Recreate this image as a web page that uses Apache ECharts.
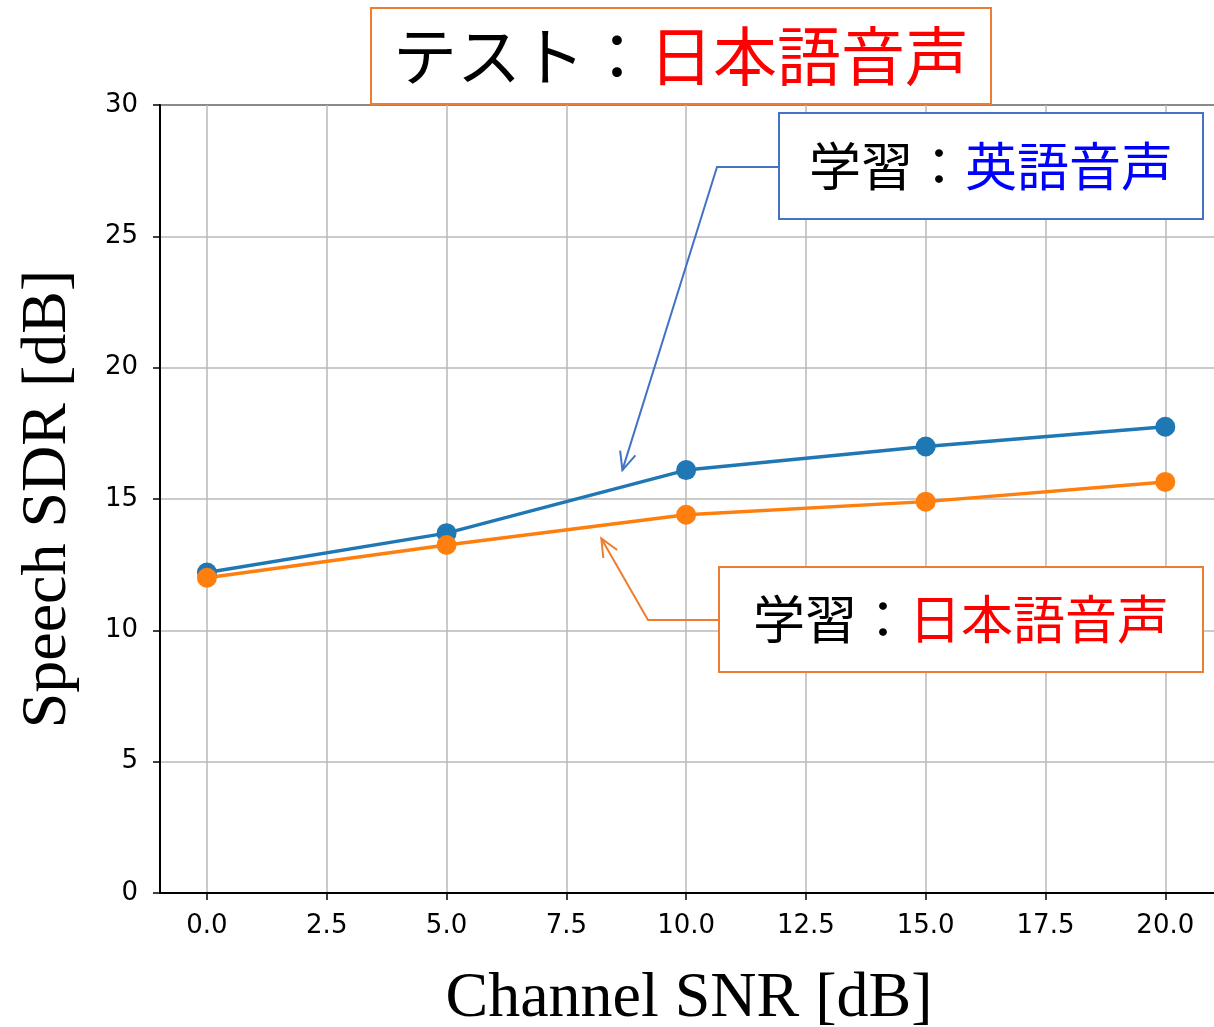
<!DOCTYPE html>
<html>
<head>
<meta charset="utf-8">
<script src="https://cdn.jsdelivr.net/npm/echarts@6/dist/echarts.min.js"></script>
<style>
html, body { margin: 0; padding: 0; background: #fff; }
#chart { width: 1214px; height: 1027px; }
</style>
</head>
<body>
<div id="chart"></div>
<script>
// values
let snr = [0, 5, 10, 15, 20]
let sdrEnglish = [12.2, 13.7, 16.1, 17.0, 17.75]
let sdrJapanese = [12.0, 13.25, 14.4, 14.9, 15.65]
let xTicks = [0, 2.5, 5, 7.5, 10, 12.5, 15, 17.5, 20]

let xName = 'Channel SNR [dB]'
let yName = 'Speech SDR [dB]'
let titleText = ['テスト：', '日本語音声']
let noteEnglish = ['学習：', '英語音声']
let noteJapanese = ['学習：', '日本語音声']

// where the arrows point, in data units
let tipEnglish = [8.67, 16.1]
let tipJapanese = [8.23, 13.5]

const jp = '"Noto Sans CJK JP", "Noto Sans", sans-serif'
const tickFont = '"DejaVu Sans", sans-serif'
const serif = '"Liberation Serif", "DejaVu Serif", serif'

let myChart = echarts.init(document.getElementById('chart'))

function pairs(xs, ys) {
	let arr = []
	for (let i = 0; i < xs.length; i++) {
		arr.push([xs[i], ys[i]])
	}
	return arr
}

function noteBox(x, y, w, h, color, parts, second, size) {
	return [{
		type: 'rect',
		z: 100,
		shape: {x: x, y: y, width: w, height: h},
		style: {fill: '#fff', stroke: color, lineWidth: 2}
	}, {
		type: 'text',
		z: 101,
		x: x + w / 2,
		y: y + h / 2,
		style: {
			text: '{k|' + parts[0] + '}{c|' + parts[1] + '}',
			align: 'center',
			verticalAlign: 'middle',
			rich: {
				k: {fill: '#000', fontSize: size, fontFamily: jp},
				c: {fill: second, fontSize: size, fontFamily: jp}
			}
		}
	}]
}

function arrow(from, mid, tip, color) {
	let dx = tip[0] - mid[0], dy = tip[1] - mid[1]
	let len = Math.sqrt(dx * dx + dy * dy)
	let ux = dx / len, uy = dy / len
	let hl = 18, hw = 8
	let bx = tip[0] - ux * hl, by = tip[1] - uy * hl
	let p1 = [bx - uy * hw, by + ux * hw]
	let p2 = [bx + uy * hw, by - ux * hw]
	return [{
		type: 'polyline',
		z: 100,
		shape: {points: [from, mid, tip]},
		style: {stroke: color, lineWidth: 2, fill: null}
	}, {
		type: 'polyline',
		z: 100,
		shape: {points: [p1, tip, p2]},
		style: {stroke: color, lineWidth: 2, fill: null}
	}]
}

let option = {
	animation: false,
	backgroundColor: '#fff',
	grid: {
		left: 160,
		right: -4,
		top: 105,
		bottom: 134,
		show: true,
		borderColor: '#000',
		borderWidth: 2,
		containLabel: false,
		outerBoundsMode: 'none'
	},
	xAxis: {
		type: 'value',
		min: -0.98,
		max: 21.1,
		name: xName,
		nameLocation: 'middle',
		nameGap: 74,
		nameTextStyle: {fontFamily: serif, fontSize: 64, color: '#000'},
		axisLine: {onZero: false, lineStyle: {color: '#000', width: 2}},
		axisTick: {show: true, length: 7, customValues: xTicks, lineStyle: {color: '#000', width: 1.5}},
		axisLabel: {
			customValues: xTicks,
			margin: 20,
			fontFamily: tickFont,
			fontSize: 26,
			color: '#000',
			formatter: function (v) { return v.toFixed(1) }
		},
		splitLine: {show: true, lineStyle: {color: '#b8b8b8', width: 1.5}}
	},
	yAxis: {
		type: 'value',
		min: 0,
		max: 30,
		interval: 5,
		name: yName,
		nameLocation: 'middle',
		nameRotate: 90,
		nameGap: 80,
		nameTextStyle: {fontFamily: serif, fontSize: 64, color: '#000'},
		axisLine: {show: true, onZero: false, lineStyle: {color: '#000', width: 2}},
		axisTick: {show: true, length: 7, lineStyle: {color: '#000', width: 1.5}},
		axisLabel: {margin: 22, fontFamily: tickFont, fontSize: 26, color: '#000'},
		splitLine: {show: true, lineStyle: {color: '#b8b8b8', width: 1.5}}
	},
	series: [{
		name: noteEnglish.join(''),
		type: 'line',
		data: pairs(snr, sdrEnglish),
		symbol: 'circle',
		symbolSize: 20,
		color: '#1f77b4',
		lineStyle: {width: 3.5, color: '#1f77b4'},
		itemStyle: {color: '#1f77b4'}
	}, {
		name: noteJapanese.join(''),
		type: 'line',
		data: pairs(snr, sdrJapanese),
		symbol: 'circle',
		symbolSize: 20,
		color: '#ff7f0e',
		lineStyle: {width: 3.5, color: '#ff7f0e'},
		itemStyle: {color: '#ff7f0e'}
	}]
}

myChart.setOption(option)

// annotations: boxes are fixed on the page, arrow tips follow the axes
let tipE = myChart.convertToPixel({gridIndex: 0}, tipEnglish)
let tipJ = myChart.convertToPixel({gridIndex: 0}, tipJapanese)

let elements = []
	.concat(arrow([779, 167], [717, 167], tipE, '#4472c4'))
	.concat(arrow([719, 620], [648, 620], tipJ, '#ed7d31'))
	.concat(noteBox(371, 8, 620, 96, '#ed7d31', titleText, '#ff0000', 64))
	.concat(noteBox(779, 113, 424, 106, '#4472c4', noteEnglish, '#0000ff', 52))
	.concat(noteBox(719, 567, 484, 105, '#ed7d31', noteJapanese, '#ff0000', 52))

myChart.setOption({graphic: {elements: elements}})
</script>
</body>
</html>
